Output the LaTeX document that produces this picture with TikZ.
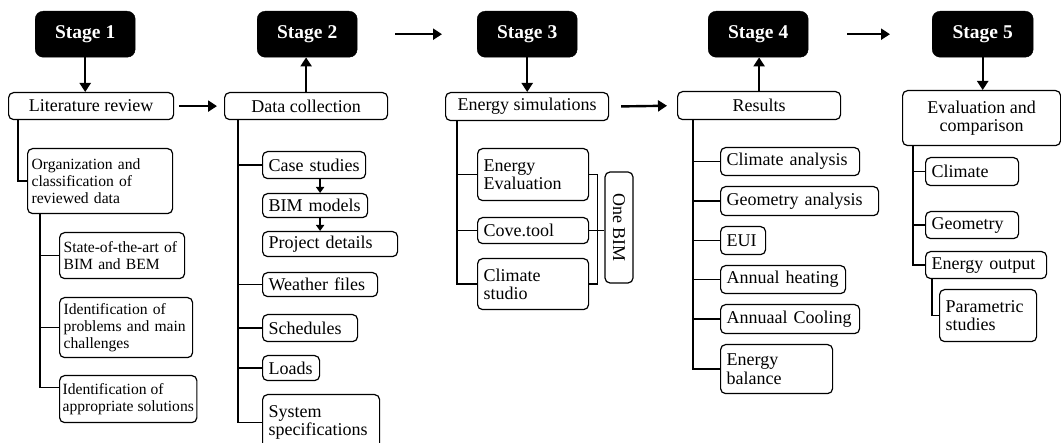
\documentclass[tikz,border=0pt]{standalone}
\usepackage{fontspec}
\setmainfont{Liberation Serif}
\usetikzlibrary{arrows.meta,calc}
\begin{document}
\hyphenpenalty=10000
\exhyphenpenalty=10000
\begin{tikzpicture}[x=1pt,y=-1pt,
  stagebox/.style={fill=black, draw=black, rounded corners=8pt, minimum width=100pt, minimum height=46pt, text=white, font=\fontsize{19.5}{21}\selectfont\bfseries, inner sep=0pt, anchor=north west},
  mainbox/.style={draw, fill=white, line width=1.2pt, rounded corners=5pt, font=\fontsize{18}{18.5}\selectfont, inner sep=0pt, anchor=north west, align=center},
  subbox/.style={draw, fill=white, line width=1.2pt, rounded corners=5pt, font=\fontsize{18}{18.5}\selectfont, inner xsep=6pt, inner ysep=0pt, anchor=north west, align=left},
  smallbox/.style={subbox, font=\fontsize{15.6}{16.7}\selectfont, inner xsep=4pt},
  link/.style={line width=1.2pt},
  arr/.style={line width=2.4pt, -{Triangle[length=9pt,width=11pt]}},
  smallarr/.style={line width=1.5pt, -{Triangle[length=6pt,width=8pt]}},
]
\useasboundingbox (0,0) rectangle (1061,443);
\clip (0,0) rectangle (1061,443);

% stage boxes
\node[stagebox] (s1) at (35,11) {Stage 1};
\node[stagebox] (s2) at (257,11) {Stage 2};
\node[stagebox] (s3) at (477,11) {Stage 3};
\node[stagebox] (s4) at (708,11) {Stage 4};
\node[stagebox, minimum width=101pt] (s5) at (932,11) {Stage 5};

% main boxes
\node[mainbox, minimum width=165pt, minimum height=27pt] (lit) at (8,92) {Literature review};
\node[mainbox, minimum width=163pt, minimum height=27pt] (data) at (224,92) {Data collection};
\node[mainbox, minimum width=163pt, minimum height=28pt] (ensim) at (445,92) {Energy simulations};
\node[mainbox, minimum width=163pt, minimum height=28pt] (res) at (677,91) {Results};
\node[mainbox, minimum width=158pt, minimum height=55pt] (evalc) at (902,90) {Evaluation and\\comparison};

% stage 1 sub boxes
\node[smallbox, text width=137pt, minimum height=65pt] (org) at (27,148) {Organization and\\classification of\\reviewed data};
\node[smallbox, text width=117pt, minimum height=46pt] (state) at (59,232) {State-of-the-art of\\BIM and BEM};
\node[smallbox, text width=125pt, minimum height=60pt] (prob) at (59,297) {Identification of\\problems and main\\challenges};
\node[smallbox, inner xsep=3pt, minimum height=47pt] (sol) at (59,375) {Identification of\\appropriate solutions};

% stage 2 sub boxes
\node[subbox, text width=91pt, minimum height=27pt] (case) at (262,151) {Case studies};
\node[subbox, text width=93pt, minimum height=24pt] (bim) at (262,193) {BIM models};
\node[subbox, text width=123pt, minimum height=25pt] (proj) at (262,231) {Project details};
\node[subbox, text width=103pt, minimum height=24pt] (weather) at (262,272) {Weather files};
\node[subbox, text width=83pt, minimum height=27pt] (sched) at (262,314) {Schedules};
\node[subbox, text width=45pt, minimum height=25pt] (loads) at (262,355) {Loads};
\node[subbox, text width=105pt, minimum height=56pt] (sys) at (262,394) {System\\specifications};

% stage 3 sub boxes
\node[subbox, text width=99pt, minimum height=52pt] (ee) at (477,148) {Energy\\Evaluation};
\node[subbox, text width=99pt, minimum height=26pt] (cove) at (477,217) {Cove.tool};
\node[subbox, text width=99pt, minimum height=51pt] (cs) at (477,258) {Climate\\studio};
\node[draw, fill=white, line width=1.2pt, rounded corners=5pt, font=\fontsize{18}{18.5}\selectfont, inner sep=0pt, rotate=-90, minimum width=111pt, minimum height=28pt] (onebim) at (619,227.5) {One BIM};

% stage 4 sub boxes
\node[subbox, text width=127pt, minimum height=28pt] (ca) at (720,147) {Climate analysis};
\node[subbox, text width=146pt, minimum height=29pt] (ga) at (720,186) {Geometry analysis};
\node[subbox, text width=33pt, minimum height=28pt] (eui) at (720,226) {EUI};
\node[subbox, text width=113pt, minimum height=28pt] (ah) at (720,265) {Annual heating};
\node[subbox, text width=127pt, minimum height=29pt] (ac) at (720,304) {Annuaal Cooling};
\node[subbox, text width=100pt, minimum height=49pt] (eb) at (720,344) {Energy\\balance};

% stage 5 sub boxes
\node[subbox, text width=81pt, minimum height=28pt] (clim) at (925,157) {Climate};
\node[subbox, text width=81pt, minimum height=27pt] (geom) at (925,211) {Geometry};
\node[subbox, text width=109pt, minimum height=27pt] (eo) at (925,251) {Energy output};
\node[subbox, text width=85pt, minimum height=52pt] (param) at (939,289) {Parametric\\studies};

% tree links, stage 1
\draw[link] ([xshift=10pt]lit.south west) |- (org.west);
\coordinate (t1) at ([xshift=13pt]org.south west);
\draw[link] (t1) |- ([yshift=11.5pt]sol.west);
\draw[link] (t1 |- state.west) -- (state.west);
\draw[link] (t1 |- prob.west) -- (prob.west);

% stage 2
\coordinate (t2) at ([xshift=14pt]data.south west);
\draw[link] (t2) |- (sys.west);
\foreach \n in {case,weather,sched,loads} \draw[link] (t2 |- \n.west) -- (\n.west);
\draw[smallarr] ([xshift=6pt]case.south) -- ([xshift=6pt]case.south |- bim.north);
\draw[smallarr] ([xshift=6pt]case.south |- bim.south) -- ([xshift=6pt]case.south |- proj.north);

% stage 3
\coordinate (t3) at ([xshift=12pt]ensim.south west);
\draw[link] (t3) |- (cs.west);
\foreach \n in {ee,cove} \draw[link] (t3 |- \n.west) -- (\n.west);
\draw[link] (ee.east) -- ++(8,0) |- (cs.east);
\draw[link] (cove.east) -- (cove.east -| onebim.south);

% stage 4
\coordinate (t4) at ([xshift=16pt]res.south west);
\draw[link] (t4) |- (eb.west);
\foreach \n in {ca,ga,eui,ah,ac} \draw[link] (t4 |- \n.west) -- (\n.west);

% stage 5
\coordinate (t5) at ([xshift=11pt]evalc.south west);
\draw[link] (t5) |- (eo.west);
\foreach \n in {clim,geom} \draw[link] (t5 |- \n.west) -- (\n.west);
\draw[link] ([xshift=7pt]eo.south west) |- (param.west);

% main arrows
\draw[arr] (s1.south) -- (s1.south |- lit.north);
\draw[arr, shorten <=5pt, shorten >=7pt] (lit.east) -- (data.west);
\draw[arr] (data.north) -- (data.north |- s2.south);
\draw[arr, shorten <=38pt, shorten >=35pt] (s2.east) -- (s3.west);
\draw[arr] (s3.south) -- (s3.south |- ensim.north);
\draw[arr, shorten <=12pt, shorten >=10pt] (ensim.east) -- (res.west);
\draw[arr] (res.north) -- (res.north |- s4.south);
\draw[arr, shorten <=39pt, shorten >=42pt] (s4.east) -- (s5.west);
\draw[arr] (s5.south) -- (s5.south |- evalc.north);
\end{tikzpicture}
\end{document}
